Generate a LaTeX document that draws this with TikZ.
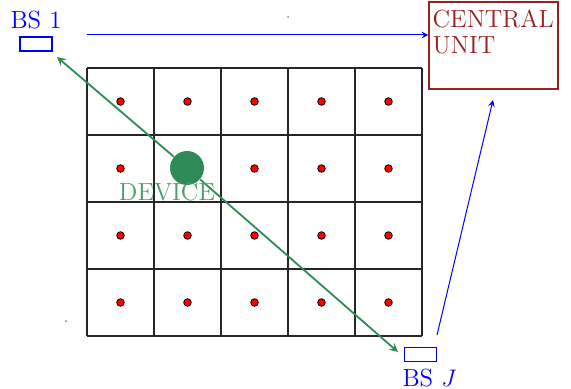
\documentclass[tikz,border=0pt]{standalone}
\usepackage{amsmath}
\usepackage{xcolor}
\usepackage{tikz}
\usetikzlibrary{positioning}
\definecolor{devgreen}{RGB}{46,139,87}
\definecolor{cured}{RGB}{155,32,32}

\begin{document}
\begin{tikzpicture}[x=0.5pt,y=-0.5pt,>=stealth,font=\fontsize{12.4}{13}\selectfont]
  \useasboundingbox (0,0) rectangle (571,389);
  \tikzset{
    gridline/.style={line width=0.6pt,black!85},
    dot/.style={fill=red,draw=black,line width=0.4pt},
    bsbox/.style={draw=blue,line width=0.6pt,minimum width=16pt,minimum height=7pt,inner sep=0pt},
    cubox/.style={draw=cured,line width=0.7pt,minimum width=64.5pt,minimum height=43.5pt,inner sep=0pt},
    link/.style={->,blue,line width=0.5pt},
    radio/.style={->,devgreen,line width=0.9pt}
  }
  % cells of the area
  \foreach \i in {0,...,5}
    \draw[gridline] (87+67*\i,68) -- (87+67*\i,336);
  \foreach \j in {0,...,4}
    \draw[gridline] (87,68+67*\j) -- (422,68+67*\j);
  \foreach \i in {0,...,4}
    \foreach \j in {0,...,3}
      \filldraw[dot] (120.5+67*\i,101.5+67*\j) circle (3.8);
  % stray marks
  \fill[gray] (288,17) circle (1);
  \fill[gray] (66,321) circle (1);
  % base stations and central unit
  \node[bsbox] (bs1) at (36,44) {};
  \node[blue,above=0pt of bs1] (bs1lab) {BS 1};
  \node[bsbox] (bsJ) at (420.5,354.5) {};
  \node[blue,below=0pt of bsJ,xshift=4.5pt] (bsJlab) {BS $J$};
  \node[cubox] (cu) at (493.5,45.5) {};
  \node[cured,anchor=north west,align=left,inner sep=2pt] (culab)
        at ([yshift=-2pt]cu.north west) {CENTRAL\\UNIT};
  \coordinate (f1) at (87,35);
  \coordinate (fJ) at (437,335);
  \coordinate (cuJ) at (493,100);
  \draw[link] (f1) -- (cu.west |- f1);
  \draw[link] (fJ) -- (cuJ);
  % device
  \coordinate (t1) at (57,57);
  \coordinate (tJ) at (398,352);
  \node[circle,fill=devgreen,minimum size=17pt,inner sep=0pt] (dev) at (187,168) {};
  \draw[radio] (dev) -- (t1);
  \draw[radio] (dev) -- (tJ);
  \node[devgreen!85] (devlab) at (167,192) {DEVICE};
\end{tikzpicture}
\end{document}
